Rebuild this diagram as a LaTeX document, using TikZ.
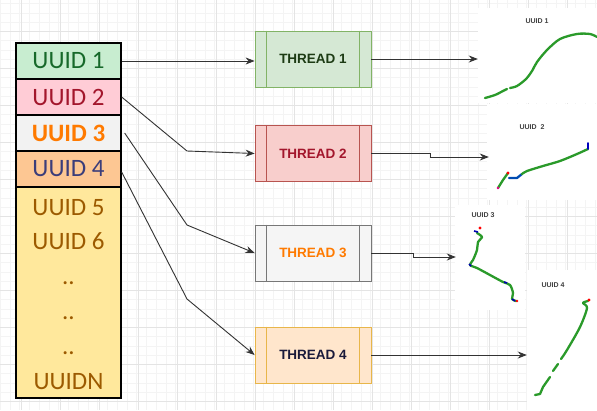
\documentclass[tikz,border=0pt]{standalone}
\usepackage{fontspec}
\newfontfamily\calibri{Carlito}
\newfontfamily\arial{Liberation Sans}
\usetikzlibrary{arrows.meta}

\definecolor{gridmajor}{HTML}{E4E4E4}
\definecolor{gridminor}{HTML}{F4F4F4}
\definecolor{linkgray}{HTML}{333333}
\definecolor{trackgreen}{HTML}{2A9A2A}
% list rows
\definecolor{rowgreen}{HTML}{C8EDD0}
\definecolor{rowpink}{HTML}{FFCCD6}
\definecolor{rowgray}{HTML}{F2F2F2}
\definecolor{roworange}{HTML}{FDC793}
\definecolor{rowyellow}{HTML}{FFE89C}
\definecolor{txtgreen}{HTML}{17692A}
\definecolor{txtred}{HTML}{A3162C}
\definecolor{txtorange}{HTML}{FF7A00}
\definecolor{txtblue}{HTML}{3B3D7A}
\definecolor{txtbrown}{HTML}{9C5A00}
% threads
\definecolor{tgreenfill}{HTML}{D5E8D4}
\definecolor{tgreendraw}{HTML}{82B366}
\definecolor{tredfill}{HTML}{F8CECC}
\definecolor{treddraw}{HTML}{B85450}
\definecolor{tgrayfill}{HTML}{F5F5F5}
\definecolor{tgraydraw}{HTML}{777777}
\definecolor{torangefill}{HTML}{FFE6CC}
\definecolor{torangedraw}{HTML}{E8B64A}
\definecolor{tnavy}{HTML}{1A1A3A}
\definecolor{tdkgreen}{HTML}{1D3B14}

\begin{document}
\begin{tikzpicture}[x=1pt,y=-1pt,
  listrow/.style={draw=black,line width=1.3pt,minimum width=105pt,
    minimum height=36pt,inner sep=0pt,font=\calibri\fontsize{25}{25}\selectfont},
  listtext/.style={inner sep=0pt,text=txtbrown,font=\calibri\fontsize{25}{25}\selectfont},
  thread/.style={minimum width=116pt,minimum height=56pt,line width=0.8pt,
    inner sep=0pt,font=\arial\bfseries\fontsize{13.5}{13.5}\selectfont},
  link/.style={draw=linkgray,line width=0.9pt,-{Stealth[length=9pt,width=7pt]}},
  track/.style={draw=trackgreen,line width=2.3pt,line cap=round,line join=round},
  plotbg/.style={fill=white,draw=none,inner sep=0pt},
  plotlabel/.style={inner sep=0pt,text=black!75,font=\arial\bfseries\fontsize{7}{7}\selectfont}]

  \useasboundingbox[fill=white] (0,0) rectangle (597,410);

  % background grid
  \foreach \x in {0,9.75,...,597} \draw[gridminor,line width=0.5pt] (\x,0) -- (\x,410);
  \foreach \y in {3.5,12.75,...,410} \draw[gridminor,line width=0.5pt] (0,\y) -- (597,\y);
  \foreach \x in {21,60,...,597} \draw[gridmajor,line width=0.7pt] (\x,0) -- (\x,410);
  \foreach \y in {31,68,...,410} \draw[gridmajor,line width=0.7pt] (0,\y) -- (597,\y);

  % list of ids
  \node[listrow,fill=rowgreen,text=txtgreen] (uuid1) at (68.5,61) {UUID 1};
  \node[listrow,fill=rowpink,text=txtred] (uuid2) at (68.5,97) {UUID 2};
  \node[listrow,fill=rowgray,text=txtorange] (uuid3) at (68.5,133) {\textbf{UUID 3}};
  \node[listrow,fill=roworange,text=txtblue] (uuid4) at (68.5,169) {UUID 4};
  \node[listrow,fill=rowyellow,minimum height=211pt] (rest) at (68.5,292.5) {};
  \node[listtext] (uuid5) at (rest.center |- 0,207.5) {UUID 5};
  \node[listtext] (uuid6) at (rest.center |- 0,241.5) {UUID 6};
  \node[listtext] (dots1) at (rest.center |- 0,283) {..};
  \node[listtext] (dots2) at (rest.center |- 0,318) {..};
  \node[listtext] (dots3) at (rest.center |- 0,353) {..};
  \node[listtext] (uuidn) at (rest.center |- 0,381.5) {UUIDN};

  % threads
  \node[thread,fill=tgreenfill,draw=tgreendraw,text=tdkgreen] (thread1) at (313,59) {THREAD 1};
  \node[thread,fill=tredfill,draw=treddraw,text=txtred] (thread2) at (313,153.5) {THREAD 2};
  \node[thread,fill=tgrayfill,draw=tgraydraw,text=txtorange] (thread3) at (313,253) {THREAD 3};
  \node[thread,fill=torangefill,draw=torangedraw,text=tnavy] (thread4) at (313,355) {THREAD 4};
  \foreach \t/\c in {thread1/tgreendraw,thread2/treddraw,thread3/tgraydraw,thread4/torangedraw} {
    \draw[\c,line width=0.8pt] ([xshift=12pt]\t.north west) -- ([xshift=12pt]\t.south west);
    \draw[\c,line width=0.8pt] ([xshift=-12pt]\t.north east) -- ([xshift=-12pt]\t.south east);
  }

  % plot backgrounds
  \node[plotbg,minimum width=119pt,minimum height=95pt] (plot1) at (537.5,55.5) {};
  \node[plotbg,minimum width=110pt,minimum height=96pt] (plot2) at (542,152) {};
  \node[plotbg,minimum width=70pt,minimum height=105pt] (plot3) at (490,257.5) {};
  \node[plotbg,minimum width=70pt,minimum height=140pt] (plot4) at (562,340) {};

  % ids to threads
  \coordinate (bend2) at (187,151);
  \coordinate (bend3) at (187,225);
  \coordinate (bend4) at (187,299);
  \draw[link] (uuid1.east) -- (uuid1.east -| thread1.west);
  \draw[link] (uuid2.east) -- (bend2) -- (thread2.west);
  \draw[link] ([xshift=3pt]uuid3.east) -- (bend3) -- (thread3.west);
  \draw[link] ([yshift=-3pt]uuid4.east) -- (bend4) -- (thread4.west);

  % threads to plots
  \coordinate (step2) at (430,157);
  \coordinate (step3) at (413,257);
  \draw[link] (thread1.east) -- (thread1.east -| plot1.west);
  \draw[link] (thread2.east) -| (step2) -- ([xshift=2pt]step2 -| plot2.west);
  \draw[link] (thread3.east) -| (step3) -- ([xshift=1pt]step3 -| plot3.west);
  \draw[link] (thread4.east) -- (thread4.east -| plot4.west);

  % plot 1
  \node[plotlabel] (label1) at (537,21) {UUID 1};
  \draw[track] plot[smooth] coordinates {(485,98) (495,95) (503,91) (507,89)};
  \draw[track] plot[smooth] coordinates {(510,88) (517,86) (526,79) (532,71)
    (537,62) (547,50) (560,39) (577,34) (590,34) (597,37)};

  % plot 2
  \node[plotlabel] (label2) at (532,127) {UUID\ \ 2};
  \draw[track] (498,188) -- (503,180) -- (508,173);
  \fill[red] (508,173) circle (1.6pt);
  \fill[magenta] (498,188) circle (1.3pt);
  \draw[track,draw=blue!70!green] (509,178) -- (517,178) -- (522,174);
  \draw[track] plot[smooth] coordinates {(522,174) (527,171) (543,166) (560,161) (577,154) (588,149)};
  \draw[track,draw=blue!75!black,line width=1.8pt] (588,149) -- (588,143);

  % plot 3
  \node[plotlabel] (label3) at (483,215) {UUID 3};
  \draw[track] plot[smooth] coordinates {(477,233) (482,237) (478,242) (477,250)
    (473,260) (470,265) (477,268) (490,275) (503,282) (510,285) (513,293) (512,299) (516,301)};
  \draw[blue!70!black,line width=1.6pt] (474,231) -- (478,232);
  \draw[blue!70!black,line width=1.6pt] (469,264) -- (471,266);
  \draw[blue!70!black,line width=1.6pt] (504,282) -- (507,283);
  \draw[blue!70!black,line width=1.6pt] (512,299) -- (515,301);
  \fill[red] (480,228) circle (1.6pt);
  \fill[red] (517,301) circle (1.4pt);

  % plot 4
  \node[plotlabel] (label4) at (553,285) {UUID 4};
  \draw[track] plot[smooth] coordinates {(588,301) (583,303) (587,308) (580,327) (567,350) (561,359)};
  \draw[track] (558,364) -- (553,371);
  \draw[track] (550,377) -- (543,387) -- (540,394) -- (535,395);
  \fill[red] (589,300) circle (1.6pt);
\end{tikzpicture}
\end{document}
